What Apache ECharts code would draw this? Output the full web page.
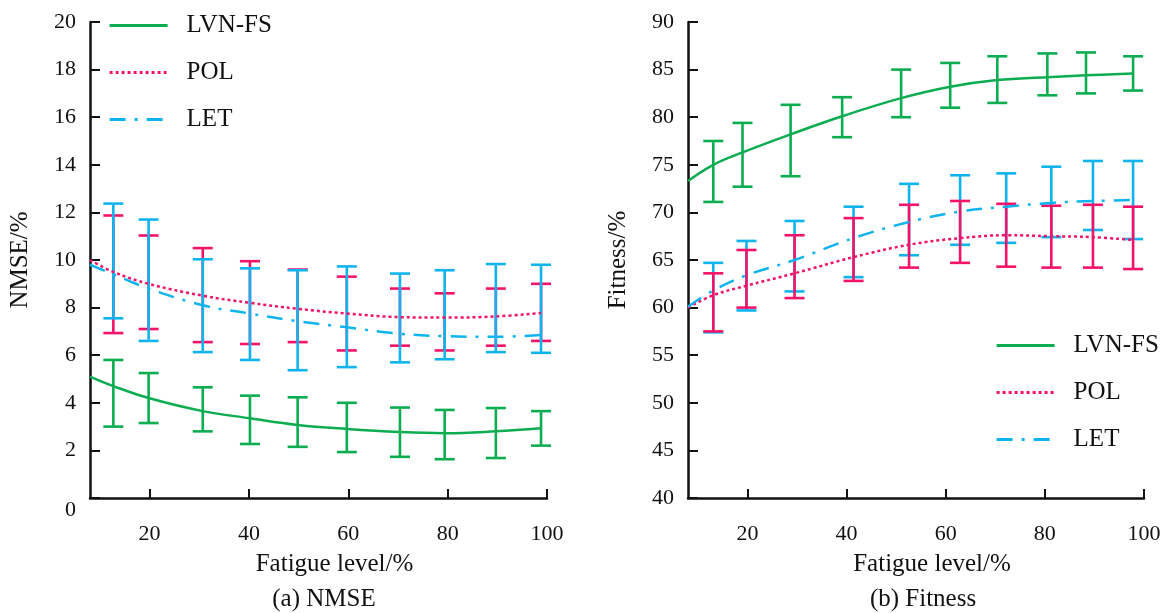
<!DOCTYPE html>
<html>
<head>
<meta charset="utf-8">
<script src="https://cdn.jsdelivr.net/npm/echarts@6/dist/echarts.min.js"></script>
<style>
  html, body { margin: 0; padding: 0; background: #fff; }
  #chart { width: 1167px; height: 613px; }
</style>
</head>
<body>
<div id="chart"></div>
<script>
// tick positions on the fatigue axis
const xTicks = [20, 40, 60, 80, 100];

// (a) NMSE - fitted curves, [fatigue, value]
const nmseCurveLvn = [[8, 5.1], [12.7, 4.7], [19.8, 4.2], [30.7, 3.65], [40.2, 3.35], [49.8, 3.07], [59.7, 2.9], [70.4, 2.77], [79.4, 2.72], [89.7, 2.8], [98.8, 2.93]];
const nmseCurvePol = [[8, 10.0], [12.7, 9.5], [19.8, 9.0], [30.7, 8.5], [40.2, 8.2], [49.8, 7.95], [59.7, 7.75], [70.4, 7.6], [79.4, 7.58], [89.7, 7.63], [98.8, 7.77]];
const nmseCurveLet = [[8, 9.8], [12.7, 9.4], [19.8, 8.8], [30.7, 8.1], [40.2, 7.75], [49.8, 7.43], [59.7, 7.17], [70.4, 6.9], [79.4, 6.8], [89.7, 6.77], [98.8, 6.85]];

// (a) NMSE - error bars
const nmseX = [12.7, 19.8, 30.7, 40.2, 49.8, 59.7, 70.4, 79.4, 89.7, 98.8];
const nmseLvnLow = [3.0, 3.15, 2.8, 2.27, 2.15, 1.93, 1.73, 1.63, 1.68, 2.2];
const nmseLvnHigh = [5.8, 5.25, 4.65, 4.3, 4.23, 4.0, 3.8, 3.7, 3.78, 3.65];
const nmsePolLow = [6.93, 7.1, 6.55, 6.47, 6.55, 6.2, 6.4, 6.2, 6.4, 6.6];
const nmsePolHigh = [11.87, 11.03, 10.5, 9.95, 9.6, 9.3, 8.8, 8.6, 8.8, 9.0];
const nmseLetLow = [7.55, 6.6, 6.13, 5.8, 5.37, 5.5, 5.7, 5.83, 6.13, 6.1];
const nmseLetHigh = [12.37, 11.7, 10.03, 9.65, 9.57, 9.73, 9.43, 9.57, 9.83, 9.8];

// (b) Fitness - fitted curves
const fitCurveLvn = [[8, 73.3], [13.1, 75.0], [19.0, 76.3], [28.7, 78.2], [39.1, 80.1], [51.0, 82.0], [60.9, 83.2], [70.4, 83.9], [80.5, 84.2], [88.3, 84.4], [97.8, 84.6]];
const fitCurvePol = [[8, 60.0], [13.1, 61.3], [19.8, 62.3], [29.5, 63.6], [41.4, 65.3], [52.6, 66.6], [62.9, 67.3], [72.2, 67.6], [81.3, 67.5], [89.7, 67.4], [97.8, 67.1]];
const fitCurveLet = [[8, 60.1], [13.1, 61.8], [19.8, 63.4], [29.5, 65.0], [41.4, 67.3], [52.6, 69.0], [62.9, 70.1], [72.2, 70.6], [81.3, 71.0], [89.7, 71.2], [97.8, 71.3]];

// (b) Fitness - error bars
const fitLvnX = [13.1, 19.0, 28.7, 39.1, 51.0, 60.9, 70.4, 80.5, 88.3, 97.8];
const fitLvnLow = [71.1, 72.7, 73.8, 77.9, 80.0, 81.0, 81.5, 82.3, 82.5, 82.8];
const fitLvnHigh = [77.5, 79.4, 81.3, 82.1, 85.0, 85.7, 86.4, 86.7, 86.8, 86.4];
const fitX = [13.1, 19.8, 29.5, 41.4, 52.6, 62.9, 72.2, 81.3, 89.7, 97.8];
const fitPolLow = [57.5, 60.0, 61.0, 62.8, 64.2, 64.7, 64.3, 64.2, 64.2, 64.05];
const fitPolHigh = [63.6, 66.05, 67.6, 69.4, 70.8, 71.2, 70.9, 70.7, 70.8, 70.6];
const fitLetLow = [57.4, 59.7, 61.7, 63.2, 65.5, 66.6, 66.8, 67.4, 68.15, 67.2];
const fitLetHigh = [64.7, 67.0, 69.1, 70.6, 73.0, 73.9, 74.1, 74.8, 75.4, 75.4];

const GREEN = '#0bad50';
const PINK = '#f5136a';
const BLUE = '#0fb4ef';
const FONT = 'Liberation Serif';
const INK = '#111';

const chart = echarts.init(document.getElementById('chart'));

function zipBars(xs, lo, hi) {
  return xs.map((x, i) => [x, lo[i], hi[i]]);
}

function errorBars(color) {
  return (params, api) => {
    const x = api.value(0);
    const lo = api.coord([x, api.value(1)]);
    const hi = api.coord([x, api.value(2)]);
    const w = 10;
    const style = { stroke: color, lineWidth: 2.6 };
    return {
      type: 'group',
      children: [
        { type: 'line', shape: { x1: lo[0], y1: lo[1], x2: hi[0], y2: hi[1] }, style },
        { type: 'line', shape: { x1: hi[0] - w, y1: hi[1], x2: hi[0] + w, y2: hi[1] }, style },
        { type: 'line', shape: { x1: lo[0] - w, y1: lo[1], x2: lo[0] + w, y2: lo[1] }, style },
      ],
    };
  };
}

function barSeries(name, idx, color, data) {
  return {
    name,
    type: 'custom',
    xAxisIndex: idx,
    yAxisIndex: idx,
    renderItem: errorBars(color),
    encode: { x: 0, y: [1, 2] },
    data,
    silent: true,
  };
}

function curveSeries(name, idx, color, dash, data) {
  return {
    name,
    type: 'line',
    xAxisIndex: idx,
    yAxisIndex: idx,
    smooth: 0.4,
    symbol: 'none',
    itemStyle: { color },
    lineStyle: { color, width: 2.5, type: dash },
    data,
    z: 3,
  };
}

function xAxis(idx) {
  return {
    type: 'value',
    gridIndex: idx,
    min: 8,
    max: 100,
    name: 'Fatigue level/%',
    nameLocation: 'middle',
    nameGap: 54,
    nameTextStyle: { fontFamily: FONT, fontSize: 25, color: INK, padding: [0, 0, 0, 32] },
    axisLine: { lineStyle: { color: INK, width: 2.5 } },
    axisTick: { inside: true, length: 9, customValues: xTicks, lineStyle: { width: 2, color: INK } },
    axisLabel: { customValues: xTicks, margin: 25, fontFamily: FONT, fontSize: 22, color: INK },
    splitLine: { show: false },
  };
}

function yAxis(idx, name, min, max, interval) {
  return {
    type: 'value',
    gridIndex: idx,
    min,
    max,
    interval,
    name,
    nameLocation: 'middle',
    nameGap: 57,
    nameTextStyle: { fontFamily: FONT, fontSize: 25, color: INK },
    axisLine: { show: true, lineStyle: { color: INK, width: 2.5 } },
    axisTick: { show: true, inside: true, length: 10, lineStyle: { width: 2, color: INK } },
    axisLabel: {
      margin: 14,
      fontFamily: FONT,
      fontSize: 22,
      color: INK,
      formatter: (v) => (v === 0 ? '{lo|0}' : String(v)),
      rich: { lo: { fontFamily: FONT, fontSize: 22, color: INK, padding: [24, 0, 0, 0] } },
    },
    splitLine: { show: false },
  };
}

function legend(left, top) {
  return {
    orient: 'vertical',
    left,
    top,
    itemWidth: 58,
    itemHeight: 14,
    itemGap: 22,
    itemStyle: { opacity: 0 },
    lineStyle: { width: 3.2 },
    textStyle: { fontFamily: FONT, fontSize: 25, color: INK, padding: [0, 0, 0, 14] },
    data: ['LVN-FS', 'POL', 'LET'],
  };
}

chart.setOption({
  animation: false,
  title: [
    { text: '(a) NMSE', left: 319, top: 582, textAlign: 'center', textStyle: { fontFamily: FONT, fontSize: 25, fontWeight: 'normal', color: INK } },
    { text: '(b) Fitness', left: 918, top: 582, textAlign: 'center', textStyle: { fontFamily: FONT, fontSize: 25, fontWeight: 'normal', color: INK } },
  ],
  legend: [legend(103, 8), legend(990, 328)],
  grid: [
    { left: 90, top: 22, width: 457, bottom: 115 },
    { left: 688, top: 22, width: 456, bottom: 115 },
  ],
  xAxis: [xAxis(0), xAxis(1)],
  yAxis: [yAxis(0, 'NMSE/%', 0, 20, 2), yAxis(1, 'Fitness/%', 40, 90, 5)],
  series: [
    barSeries('LVN-FS bars a', 0, GREEN, zipBars(nmseX, nmseLvnLow, nmseLvnHigh)),
    barSeries('POL bars a', 0, PINK, zipBars(nmseX, nmsePolLow, nmsePolHigh)),
    barSeries('LET bars a', 0, BLUE, zipBars(nmseX, nmseLetLow, nmseLetHigh)),
    curveSeries('LVN-FS', 0, GREEN, 'solid', nmseCurveLvn),
    curveSeries('POL', 0, PINK, [3, 3], nmseCurvePol),
    curveSeries('LET', 0, BLUE, [16, 9, 3, 9], nmseCurveLet),
    barSeries('LVN-FS bars b', 1, GREEN, zipBars(fitLvnX, fitLvnLow, fitLvnHigh)),
    barSeries('LET bars b', 1, BLUE, zipBars(fitX, fitLetLow, fitLetHigh)),
    barSeries('POL bars b', 1, PINK, zipBars(fitX, fitPolLow, fitPolHigh)),
    curveSeries('LVN-FS', 1, GREEN, 'solid', fitCurveLvn),
    curveSeries('POL', 1, PINK, [3, 3], fitCurvePol),
    curveSeries('LET', 1, BLUE, [16, 9, 3, 9], fitCurveLet),
  ],
});
</script>
</body>
</html>
